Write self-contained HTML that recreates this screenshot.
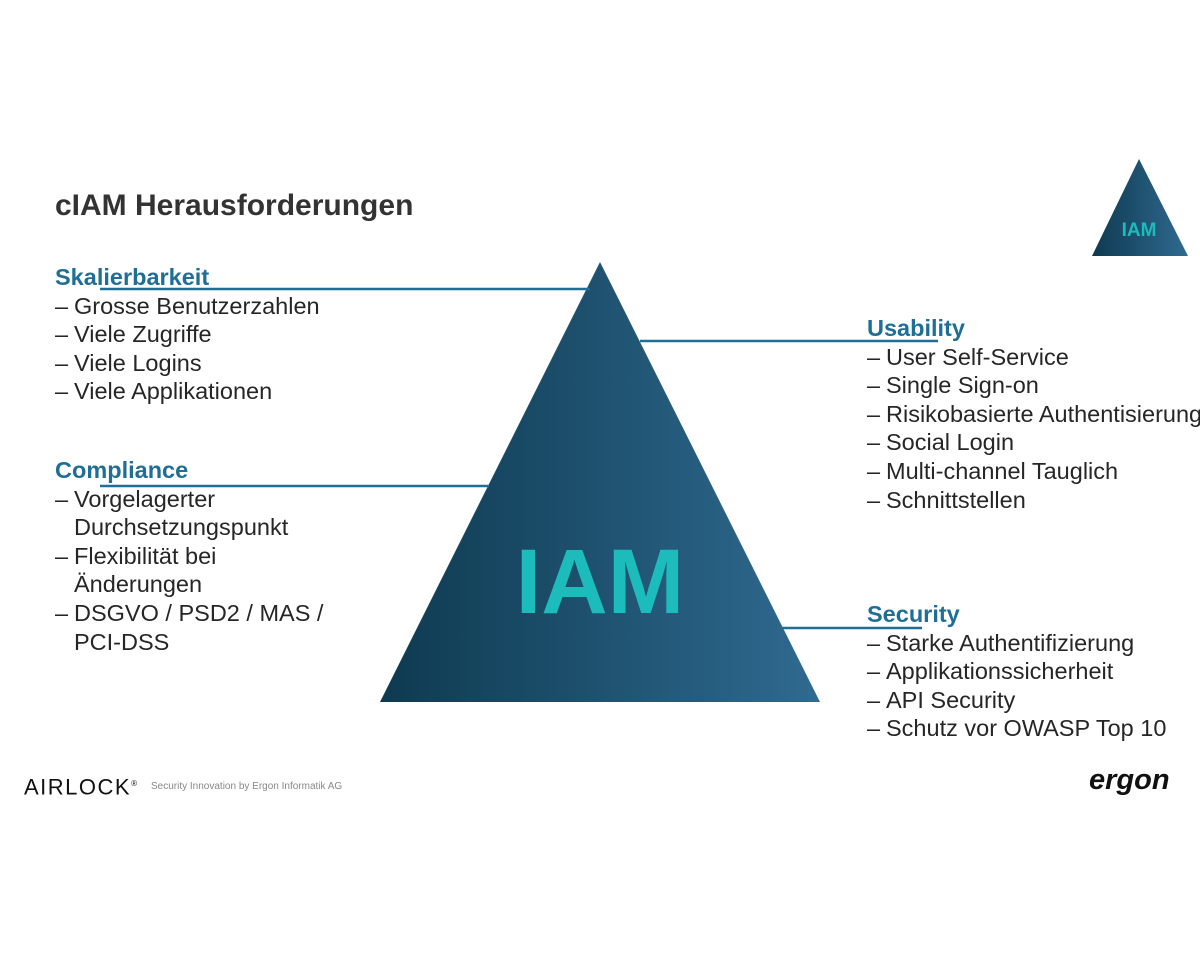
<!DOCTYPE html>
<html><head><meta charset="utf-8"><style>
body{margin:0;width:1200px;height:960px;background:#fff;position:relative;overflow:hidden;font-family:"Liberation Sans",Arial,sans-serif;}
.b{position:absolute;font-size:23.5px;line-height:28.6px;color:#262626;white-space:nowrap;}
.h{color:#1f6e96;font-weight:bold;}
.r{position:relative;padding-left:19px;}
.r:before{content:"–";position:absolute;left:0;top:0;}
</style></head><body>
<svg width="1200" height="960" style="position:absolute;left:0;top:0">
<defs>
<linearGradient id="g" x1="0" x2="1" y1="0" y2="0">
<stop offset="0" stop-color="#0e3a50"/><stop offset="1" stop-color="#2f6a90"/></linearGradient>
</defs>
<polygon points="600,262 820,702 380,702" fill="url(#g)"/>
<polygon points="1139,159 1188,256 1092,256" fill="url(#g)"/>
<line x1="100" y1="289" x2="590" y2="289" stroke="#1f6e96" stroke-width="2.5"/>
<line x1="100" y1="486" x2="489" y2="486" stroke="#1f6e96" stroke-width="2.5"/>
<line x1="640" y1="341" x2="938" y2="341" stroke="#1f6e96" stroke-width="2.5"/>
<line x1="782" y1="628" x2="922" y2="628" stroke="#1f6e96" stroke-width="2.5"/>
<text x="600" y="613" text-anchor="middle" font-family="Liberation Sans" font-weight="bold" font-size="92" fill="#1dbcbc">IAM</text>
<text x="1139" y="236" text-anchor="middle" font-family="Liberation Sans" font-weight="bold" font-size="19" fill="#1dbcbc">IAM</text>
</svg>
<div class="b" style="left:55px;top:192px;font-size:30px;font-weight:bold;color:#333">cIAM Herausforderungen</div>
<div class="b" style="left:55px;top:263px">
<div class="h">Skalierbarkeit</div>
<div class="r">Grosse Benutzerzahlen</div><div class="r">Viele Zugriffe</div><div class="r">Viele Logins</div><div class="r">Viele Applikationen</div>
</div>
<div class="b" style="left:55px;top:456px">
<div class="h">Compliance</div>
<div class="r">Vorgelagerter<br>Durchsetzungspunkt</div>
<div class="r">Flexibilität bei<br>Änderungen</div>
<div class="r">DSGVO / PSD2 / MAS /<br>PCI-DSS</div>
</div>
<div class="b" style="left:867px;top:314px">
<div class="h">Usability</div>
<div class="r">User Self-Service</div><div class="r">Single Sign-on</div><div class="r">Risikobasierte Authentisierung</div><div class="r">Social Login</div><div class="r">Multi-channel Tauglich</div><div class="r">Schnittstellen</div>
</div>
<div class="b" style="left:867px;top:600px">
<div class="h">Security</div>
<div class="r">Starke Authentifizierung</div><div class="r">Applikationssicherheit</div><div class="r">API Security</div><div class="r">Schutz vor OWASP Top 10</div>
</div>
<div class="b" style="left:24px;top:770px;font-size:22px;letter-spacing:1.5px;color:#111">AIRLOCK<sup style="font-size:8px">®</sup></div>
<div class="b" style="left:151px;top:780px;font-size:10px;line-height:14px;color:#888">Security Innovation by Ergon Informatik AG</div>
<div class="b" style="left:1089px;top:766px;font-size:29px;font-weight:bold;font-style:italic;color:#111">ergon</div>
</body></html>
